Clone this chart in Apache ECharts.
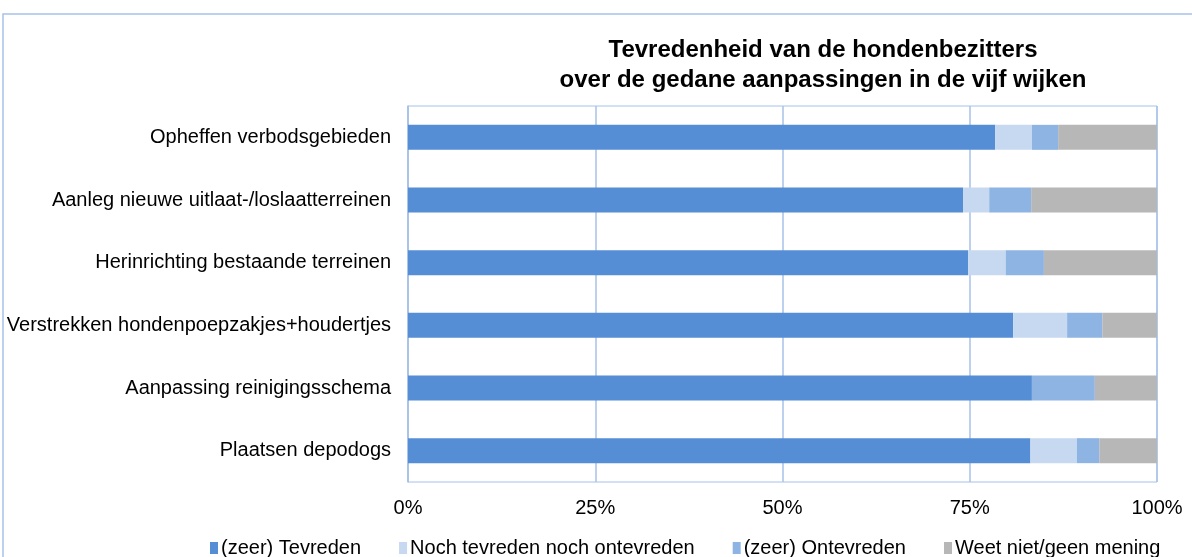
<!DOCTYPE html>
<html>
<head>
<meta charset="utf-8">
<script src="https://cdn.jsdelivr.net/npm/echarts@6/dist/echarts.min.js"></script>
<style>
  html, body { margin: 0; padding: 0; background: #fff; }
  #chart { width: 1192px; height: 557px; }
</style>
</head>
<body>
<div id="chart"></div>
<script>
// categories top to bottom
const categories = [
    'Opheffen verbodsgebieden',
    'Aanleg nieuwe uitlaat-/loslaatterreinen',
    'Herinrichting bestaande terreinen',
    'Verstrekken hondenpoepzakjes+houdertjes',
    'Aanpassing reinigingsschema',
    'Plaatsen depodogs'
];
const seriesNames = ['(zeer) Tevreden', 'Noch tevreden noch ontevreden', '(zeer) Ontevreden', 'Weet niet/geen mening'];
const tevreden   = [78.4, 74.1, 74.8, 80.8, 83.3, 83.1];
const neutraal   = [4.9, 3.5, 5.0, 7.2, 0, 6.2];
const ontevreden = [3.5, 5.6, 5.1, 4.7, 8.4, 3.0];
const weetNiet   = [13.2, 16.8, 15.1, 7.3, 8.3, 7.7];
const xTicks = [0, 25, 50, 75, 100];

const colors = ['#558ED5', '#C6D9F1', '#8EB4E3', '#B7B7B7'];
const lineBlue = '#A7C2E8';

const chart = echarts.init(document.getElementById('chart'));
const allData = [tevreden, neutraal, ontevreden, weetNiet];

chart.setOption({
    animation: false,
    textStyle: { fontFamily: 'Liberation Sans, Arial, sans-serif' },
    title: {
        text: 'Tevredenheid van de hondenbezitters\nover de gedane aanpassingen in de vijf wijken',
        left: 818,
        top: 30,
        textAlign: 'center',
        textStyle: { fontSize: 24, fontWeight: 'bold', color: '#000', lineHeight: 30 }
    },
    graphic: [{
        type: 'rect',
        shape: { x: 3, y: 14, width: 1300, height: 700 },
        style: { fill: 'none', stroke: lineBlue, lineWidth: 1.5 },
        silent: true
    }],
    legend: {
        top: 533,
        left: 205,
        itemWidth: 8,
        itemHeight: 12,
        itemGap: 38,
        icon: 'rect',
        textStyle: { fontSize: 20, color: '#000', padding: [0, 0, 0, -2] },
        data: seriesNames
    },
    grid: {
        left: 408, right: 35, top: 106, bottom: 75,
        show: true, borderColor: lineBlue, borderWidth: 1
    },
    xAxis: {
        type: 'value',
        min: xTicks[0],
        max: xTicks[xTicks.length - 1],
        interval: 25,
        axisLine: { show: false },
        axisTick: { show: false },
        splitLine: { lineStyle: { color: lineBlue, width: 1.5 } },
        axisLabel: { formatter: '{value}%', fontSize: 20, color: '#000', margin: 16 }
    },
    yAxis: {
        type: 'category',
        data: categories,
        inverse: true,
        axisLine: { lineStyle: { color: lineBlue, width: 1.5 } },
        axisTick: { length: 6, lineStyle: { color: lineBlue, width: 1.5 } },
        axisLabel: { fontSize: 20, color: '#000', margin: 17 }
    },
    series: seriesNames.map((name, i) => ({
        name: name,
        type: 'bar',
        stack: 'total',
        barWidth: 25,
        itemStyle: { color: colors[i] },
        data: allData[i]
    }))
});
</script>
</body>
</html>
